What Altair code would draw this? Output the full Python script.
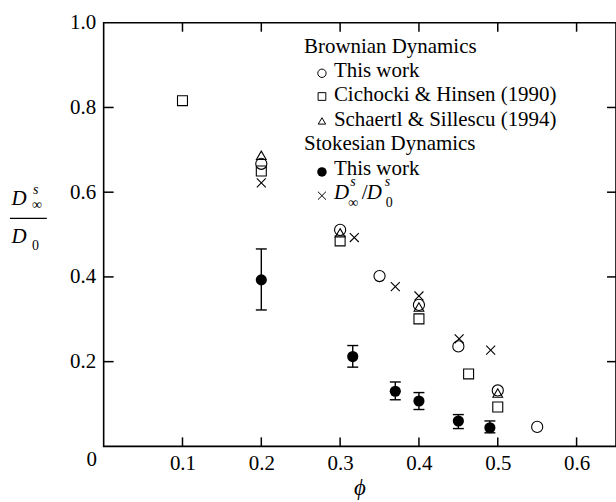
import altair as alt
import pandas as pd

SERIF = "'Liberation Serif', 'Times New Roman', Times, serif"

# Brownian dynamics, this work (open circles)
bd_phi = [0.2, 0.3, 0.35, 0.4, 0.45, 0.5, 0.55]
bd_d = [0.667, 0.511, 0.402, 0.334, 0.236, 0.132, 0.046]

# Cichocki & Hinsen (1990) (open squares)
ch_phi = [0.1, 0.2, 0.3, 0.4, 0.463, 0.5]
ch_d = [0.816, 0.650, 0.485, 0.301, 0.171, 0.093]

# Schaertl & Sillescu (1994) (open triangles)
ss_phi = [0.2, 0.3, 0.4, 0.5]
ss_d = [0.687, 0.504, 0.329, 0.126]

# Stokesian dynamics, this work (filled circles with error bars)
sd_phi = [0.2, 0.316, 0.37, 0.4, 0.45, 0.49]
sd_d = [0.393, 0.212, 0.130, 0.107, 0.060, 0.044]
sd_lo = [0.322, 0.187, 0.110, 0.087, 0.042, 0.032]
sd_hi = [0.466, 0.238, 0.152, 0.127, 0.075, 0.060]

# D^s_inf / D^s_0 (crosses)
cr_phi = [0.2, 0.318, 0.37, 0.4, 0.451, 0.491]
cr_d = [0.622, 0.493, 0.377, 0.355, 0.254, 0.227]

x_ticks = [0.1, 0.2, 0.3, 0.4, 0.5, 0.6]
y_ticks = [0.2, 0.4, 0.6, 0.8, 1.0]
y_inner_ticks = [0.2, 0.4, 0.6, 0.8]

W, H = 514, 425
xs = alt.Scale(domain=[0, 0.65], nice=False, zero=False)
ys = alt.Scale(domain=[0, 1.0], nice=False, zero=False)
x_axis = alt.Axis(values=x_ticks, format=".1f", title=None, labelPadding=6)
y_axis = alt.Axis(values=y_ticks, format=".1f", title=None, labelPadding=8)

CROSS = "M-1,-1L1,1M1,-1L-1,1"
DUMMY = pd.DataFrame({"_": [0]})


def pts(phi, d, shape, size, filled=False, stroke_w=1.1):
    df = pd.DataFrame({"phi": phi, "d": d})
    return alt.Chart(df).mark_point(
        shape=shape, size=size, filled=filled, color="black",
        strokeWidth=stroke_w, opacity=1,
    ).encode(
        x=alt.X("phi:Q", scale=xs, axis=x_axis),
        y=alt.Y("d:Q", scale=ys, axis=y_axis),
    )


def txt(text, px, py, size=21, style="normal", align="left"):
    return alt.Chart(DUMMY).mark_text(
        text=text, font=SERIF, fontSize=size, fontStyle=style, align=align,
        baseline="alphabetic", color="black",
    ).encode(x=alt.value(px), y=alt.value(py))


def sym(shape, px, py, size, filled=False):
    return alt.Chart(DUMMY).mark_point(
        shape=shape, size=size, filled=filled, color="black", strokeWidth=1.0, opacity=1,
    ).encode(x=alt.value(px), y=alt.value(py))


# error bars with caps
err_df = pd.DataFrame({"phi": sd_phi, "lo": sd_lo, "hi": sd_hi})
err_bars = alt.Chart(err_df).mark_rule(color="black", strokeWidth=1.4).encode(
    x=alt.X("phi:Q", scale=xs, axis=x_axis),
    y=alt.Y("lo:Q", scale=ys, axis=y_axis), y2="hi:Q")
cap_lo = alt.Chart(err_df).mark_tick(orient="horizontal", size=11, thickness=1.4,
                                     color="black", opacity=1).encode(
    x=alt.X("phi:Q", scale=xs), y=alt.Y("lo:Q", scale=ys))
cap_hi = alt.Chart(err_df).mark_tick(orient="horizontal", size=11, thickness=1.4,
                                     color="black", opacity=1).encode(
    x=alt.X("phi:Q", scale=xs), y=alt.Y("hi:Q", scale=ys))

# inward ticks on all four sides
xt = pd.DataFrame({"v": x_ticks})
yt = pd.DataFrame({"v": y_inner_ticks})
TL = 9
tick_bottom = alt.Chart(xt).mark_rule(color="black", strokeWidth=1.5).encode(
    x=alt.X("v:Q", scale=xs), y=alt.value(H), y2=alt.value(H - TL))
tick_top = alt.Chart(xt).mark_rule(color="black", strokeWidth=1.5).encode(
    x=alt.X("v:Q", scale=xs), y=alt.value(0), y2=alt.value(TL))
tick_left = alt.Chart(yt).mark_rule(color="black", strokeWidth=1.5).encode(
    y=alt.Y("v:Q", scale=ys), x=alt.value(0), x2=alt.value(TL + 1))
tick_right = alt.Chart(yt).mark_rule(color="black", strokeWidth=1.5).encode(
    y=alt.Y("v:Q", scale=ys), x=alt.value(W), x2=alt.value(W - TL))

# legend block
legend = [
    txt("Brownian Dynamics", 201, 30),
    sym("circle", 219, 50.7, 70), txt("This work", 231, 54.5),
    sym("square", 219, 74, 60), txt("Cichocki & Hinsen (1990)", 231, 79),
    sym("triangle-up", 219, 98.5, 55), txt("Schaertl & Sillescu (1994)", 231, 103.5),
    txt("Stokesian Dynamics", 201, 128),
    sym("circle", 219, 149.7, 90, filled=True), txt("This work", 231, 152.5),
    sym(CROSS, 219, 173.5, 64),
    txt("D", 231, 176.5, style="italic"),
    txt("s", 247.5, 164, size=14, style="italic"),
    txt("\u221e", 245.5, 184.5, size=14),
    txt("/", 259, 176.5),
    txt("D", 264, 176.5, style="italic"),
    txt("s", 282, 164, size=14, style="italic"),
    txt("0", 283, 184.5, size=14),
]

# y-axis title as a fraction, x-axis title and the shared origin label
frac_rule = alt.Chart(DUMMY).mark_rule(color="black", strokeWidth=1.2).encode(
    x=alt.value(-94), x2=alt.value(-57), y=alt.value(196.3))
titles = [
    txt("D", -92.5, 183, style="italic"),
    txt("s", -71, 172, size=14, style="italic"),
    txt("\u221e", -72, 187, size=14),
    frac_rule,
    txt("D", -92.5, 221, style="italic"),
    txt("0", -72, 228, size=14),
    txt("\u03d5", 257, 474, size=23, style="italic", align="center"),
    txt("0", -12, 445, align="center"),
]

layers = [
    err_bars, cap_lo, cap_hi,
    pts(bd_phi, bd_d, "circle", 125),
    pts(ch_phi, ch_d, "square", 100),
    pts(ss_phi, ss_d, "triangle-up", 95),
    pts(cr_phi, cr_d, CROSS, 81),
    pts(sd_phi, sd_d, "circle", 125, filled=True),
    tick_bottom, tick_top, tick_left, tick_right,
] + legend + titles

chart = alt.layer(*layers).properties(
    width=W, height=H,
    autosize=alt.AutoSizeParams(type="none"),
    padding={"left": 104, "top": 22, "right": 0, "bottom": 55},
    background="white",
).configure_view(
    stroke="black", strokeWidth=1.6,
).configure_axis(
    grid=False, domain=False, ticks=False, tickSize=0,
    labelFont=SERIF, labelFontSize=21, labelColor="black",
)

chart.save("out.html", embed_options={"renderer": "svg", "actions": False})
